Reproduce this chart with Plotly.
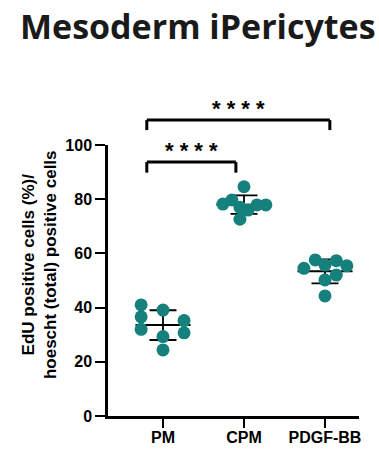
import numpy as np
import plotly.graph_objects as go

# ---- data ----
categories = ["PM", "CPM", "PDGF-BB"]
pm_values = [41.0, 36.6, 32.0, 39.1, 29.3, 24.4, 35.2, 30.7]
cpm_values = [84.6, 78.2, 79.7, 77.0, 76.0, 77.9, 77.9, 72.6]
pdgf_values = [54.5, 57.6, 55.7, 57.3, 55.4, 52.0, 50.2, 44.3]
y_ticks = [0, 20, 40, 60, 80, 100]
sig_labels = ["****", "****"]

# ---- layout helpers (positions/styles, not data) ----
dodge = [
    [-0.27, -0.27, -0.27, 0.0, 0.0, 0.0, 0.26, 0.26],
    [0.0, -0.26, -0.15, -0.05, 0.05, 0.16, 0.27, -0.05],
    [-0.26, -0.12, 0.0, 0.14, 0.27, 0.14, 0.0, 0.0],
]
TEAL = "#16807C"
FONT = "Liberation Sans, Arial, sans-serif"

groups = [pm_values, cpm_values, pdgf_values]
fig = go.Figure()

# mean and SD bars
for i, vals in enumerate(groups):
    arr = np.array(vals)
    m = arr.mean()
    sd = arr.std(ddof=1)
    fig.add_trace(go.Scatter(
        x=[i - 0.34, i + 0.34], y=[m, m], mode="lines",
        line=dict(color="black", width=2), showlegend=False, hoverinfo="skip"))
    fig.add_trace(go.Scatter(
        x=[i], y=[m], mode="markers", marker=dict(size=1, color="black"),
        error_y=dict(type="data", array=[sd], visible=True, color="black",
                     thickness=1.8, width=13.5),
        showlegend=False, hoverinfo="skip"))

# points
for i, vals in enumerate(groups):
    fig.add_trace(go.Scatter(
        x=[i + d for d in dodge[i]], y=vals, mode="markers",
        marker=dict(size=13, color=TEAL), showlegend=False, cliponaxis=False))

# significance brackets (x in category units, y in data units -> domain)
brackets = [
    (-0.2, 0.9, 93.7, 89.8, 0),
    (-0.2, 2.06, 109.2, 105.5, 1),
]
for x0, x1, ytop, yend, k in brackets:
    for (xa, ya, xb, yb) in [(x0, yend, x0, ytop), (x0, ytop, x1, ytop), (x1, ytop, x1, yend)]:
        fig.add_shape(type="line", xref="x", yref="y domain",
                      x0=xa, x1=xb, y0=ya / 100, y1=yb / 100,
                      line=dict(color="black", width=3))
    fig.add_annotation(x=(x0 + x1) / 2, y=ytop / 100 - 0.012, xref="x", yref="y domain",
                       text="<b>" + " ".join(list(sig_labels[k])) + "</b>", showarrow=False,
                       yanchor="bottom", font=dict(family=FONT, size=22, color="black"))

# y-axis title as annotation (two lines)
fig.add_annotation(
    xref="paper", yref="paper", x=0, y=0.557, xshift=-69,
    text="<b>EdU positive cells (%)/</b><br><b>hoescht (total) positive cells</b>",
    textangle=-90, showarrow=False, xanchor="center", yanchor="middle",
    font=dict(family=FONT, size=17, color="black"))

fig.update_layout(
    width=379, height=450,
    margin=dict(l=108, r=20, t=145, b=34, autoexpand=False),
    paper_bgcolor="white", plot_bgcolor="white",
    title=dict(text="<b>Mesoderm iPericytes</b>", x=20 / 379, xanchor="left",
               xref="container", y=1 - 27 / 450, yref="container", yanchor="middle",
               automargin=False,
               font=dict(family="Open Sans, sans-serif", size=34, color="#1a1a1a")),
    xaxis=dict(range=[-0.679, 2.42], tickvals=[0, 1, 2],
               ticktext=[f"<b>{c}</b>" for c in categories],
               showline=True, linecolor="black", linewidth=2.5,
               ticks="outside", ticklen=9, tickwidth=2, tickcolor="black",
               showgrid=False, zeroline=False, automargin=False,
               ticklabelstandoff=-4,
               tickfont=dict(family=FONT, size=16, color="black")),
    yaxis=dict(range=[0, 100], tickvals=y_ticks,
               ticktext=[f"<b>{t}</b>" for t in y_ticks],
               showline=True, linecolor="black", linewidth=2.5,
               ticks="outside", ticklen=10, tickwidth=2, tickcolor="black",
               showgrid=False, zeroline=False, automargin=False,
               tickfont=dict(family=FONT, size=16, color="black")),
)

fig.write_html("out.html")
